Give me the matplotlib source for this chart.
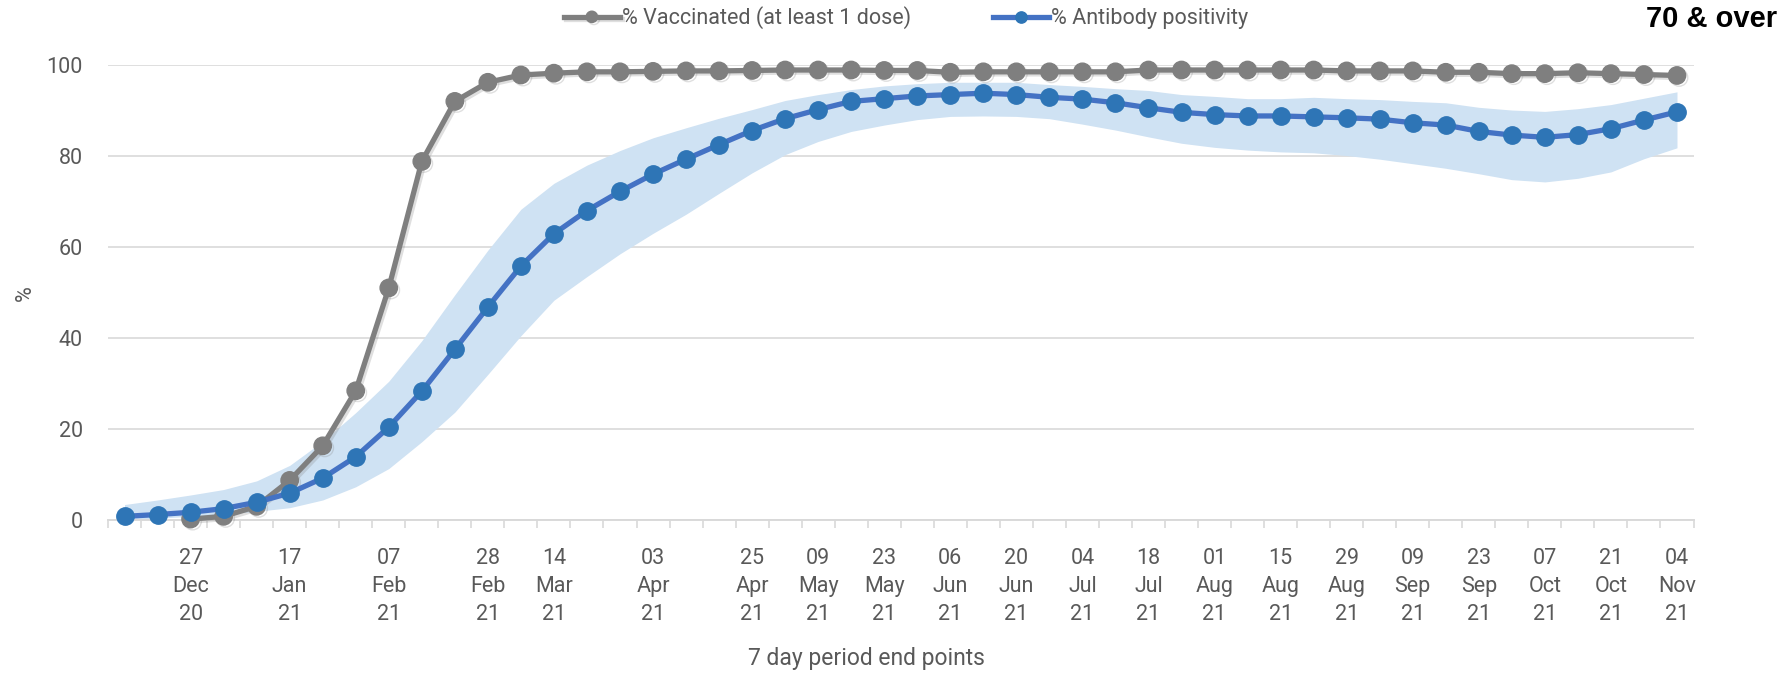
import matplotlib
matplotlib.use("Agg")
import matplotlib.pyplot as plt
import matplotlib.patheffects as pe
from matplotlib import font_manager
import numpy as np

# weekly data points, 48 periods
vaccinated = [np.nan, np.nan, 0.2, 0.8, 3.0, 8.7, 16.3, 28.4, 51.0, 78.8,
              92.0, 96.2, 97.8, 98.2, 98.5, 98.5, 98.6, 98.7, 98.7, 98.8,
              98.9, 98.9, 98.9, 98.8, 98.8, 98.4, 98.5, 98.5, 98.5, 98.5,
              98.5, 98.9, 98.9, 98.9, 98.9, 98.9, 98.9, 98.7, 98.7, 98.7,
              98.4, 98.4, 98.1, 98.1, 98.3, 98.1, 97.9, 97.7]
antibody = [0.8, 1.2, 1.7, 2.5, 3.9, 5.9, 9.2, 13.9, 20.4, 28.3,
            37.5, 46.8, 55.8, 62.9, 68.0, 72.2, 76.0, 79.3, 82.5, 85.6,
            88.2, 90.2, 92.0, 92.6, 93.2, 93.5, 93.8, 93.5, 92.9, 92.5,
            91.7, 90.6, 89.6, 89.1, 88.8, 88.8, 88.6, 88.4, 88.1, 87.3,
            86.8, 85.4, 84.6, 84.1, 84.7, 86.0, 87.9, 89.7]
antibody_low = [0.1, 0.4, 0.8, 1.3, 1.9, 2.7, 4.4, 7.3, 11.3, 17.2,
                23.7, 32.0, 40.5, 48.3, 53.5, 58.5, 63.0, 67.2, 71.8, 76.3,
                80.3, 83.2, 85.4, 86.8, 88.0, 88.7, 88.8, 88.7, 88.2, 87.0,
                85.7, 84.2, 82.8, 81.9, 81.3, 80.9, 80.7, 80.1, 79.3, 78.3,
                77.3, 76.1, 74.8, 74.3, 75.1, 76.5, 79.4, 81.8]
antibody_high = [3.4, 4.4, 5.5, 6.7, 8.6, 12.0, 17.3, 23.6, 30.5, 39.4,
                 49.5, 59.3, 68.3, 74.0, 78.0, 81.2, 84.0, 86.2, 88.3, 90.2,
                 92.2, 93.5, 94.6, 95.4, 95.9, 96.2, 96.2, 96.2, 95.7, 95.3,
                 94.8, 94.4, 93.5, 93.1, 92.6, 92.6, 92.9, 92.6, 92.4, 92.0,
                 91.7, 90.7, 90.1, 89.8, 90.4, 91.3, 92.7, 94.1]

labelled_weeks = [3, 6, 9, 12, 14, 17, 20, 22, 24, 26, 28, 30, 32, 34, 36,
                  38, 40, 42, 44, 46, 48]
week_labels = ["27\nDec\n20", "17\nJan\n21", "07\nFeb\n21", "28\nFeb\n21",
               "14\nMar\n21", "03\nApr\n21", "25\nApr\n21", "09\nMay\n21",
               "23\nMay\n21", "06\nJun\n21", "20\nJun\n21", "04\nJul\n21",
               "18\nJul\n21", "01\nAug\n21", "15\nAug\n21", "29\nAug\n21",
               "09\nSep\n21", "23\nSep\n21", "07\nOct\n21", "21\nOct\n21",
               "04\nNov\n21"]

# narrow font close to Calibri, whichever is installed
installed = {f.name for f in font_manager.fontManager.ttflist}
FONT = [f for f in ["Liberation Sans Narrow", "DejaVu Sans Condensed", "Roboto"]
        if f in installed] + ["DejaVu Sans"]
TEXT_GREY = "#595959"
GRID = "#D9D9D9"

plt.rcParams["font.family"] = FONT

W, H = 1788, 677
fig = plt.figure(figsize=(W / 100, H / 100), dpi=100)
ax = fig.add_axes([108 / W, 1 - 520 / H, (1693.5 - 108) / W, (520 - 65) / H])

weeks = np.arange(1, len(antibody) + 1)

ax.fill_between(weeks, antibody_low, antibody_high, color="#CFE2F3",
                linewidth=0, zorder=1)
ax.plot(weeks, vaccinated, color="#7F7F7F", lw=3.8, marker="o", ms=12.5,
        label="% Vaccinated (at least 1 dose)", zorder=3, clip_on=False,
        path_effects=[pe.SimpleLineShadow(offset=(1.5, -1.5), shadow_color="grey", alpha=0.25),
                      pe.Normal()])
ax.plot(weeks, antibody, color="#4472C4", lw=3.8, marker="o", ms=12.5,
        markerfacecolor="#2E75B6", markeredgecolor="#2E75B6",
        label="% Antibody positivity", zorder=4, clip_on=False)

ax.set_xlim(0.5, len(weeks) + 0.5)
ax.set_ylim(0, 100)
ax.set_yticks([0, 20, 40, 60, 80, 100])
ax.grid(axis="y", color=GRID, lw=1.2, zorder=0)
ax.set_axisbelow(True)
for s in ["top", "right", "left"]:
    ax.spines[s].set_visible(False)
ax.spines["bottom"].set_color(GRID)
ax.spines["bottom"].set_linewidth(1.4)

ax.set_xticks(labelled_weeks)
ax.set_xticklabels(week_labels, linespacing=1.45)
ax.set_xticks(np.arange(0.5, len(weeks) + 1, 1), minor=True)
ax.tick_params(axis="x", which="major", length=0, pad=20, labelsize=15.5,
               labelcolor=TEXT_GREY)
ax.tick_params(axis="x", which="minor", length=6, width=1.2, color=GRID)
ax.tick_params(axis="y", length=0, pad=18, labelsize=15.5, labelcolor=TEXT_GREY)

fig.text(25 / W, 1 - 293 / H, "%", rotation=90, ha="center", va="center",
         fontsize=15.5, color=TEXT_GREY)
fig.text(866 / W, 1 - 658 / H, "7 day period end points", ha="center",
         va="center", fontsize=16.5, color=TEXT_GREY)
fig.text(1777 / W, 1 - 19 / H, "70 & over", ha="right", va="center",
         fontsize=21, fontweight="bold", color="black",
         family=["Liberation Sans", "DejaVu Sans"])

fig.legend(loc="center", bbox_to_anchor=(906 / W, 1 - 18 / H), ncol=2,
           frameon=False, fontsize=15.5, labelcolor=TEXT_GREY,
           handlelength=2.6, handletextpad=0.1, columnspacing=3.8,
           markerscale=0.65)

fig.savefig("out.png", dpi=100)
